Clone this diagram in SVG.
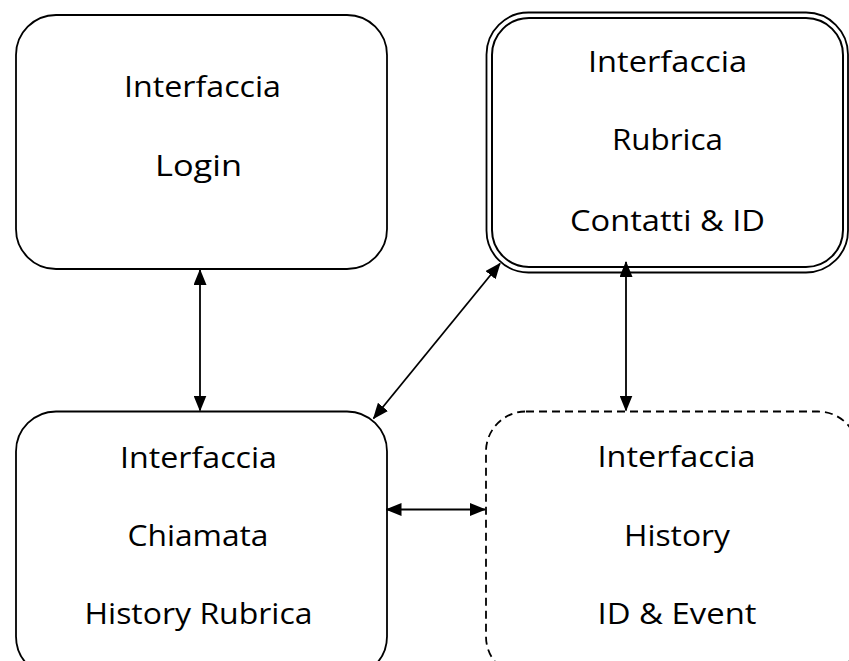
<svg xmlns="http://www.w3.org/2000/svg" width="849" height="661" viewBox="0 0 849 661">
<style>
.box{fill:#fff;stroke:#000;stroke-width:1.8}
.dbl{fill:none;stroke:#000;stroke-width:2}
.dash{fill:#fff;stroke:#000;stroke-width:1.8;stroke-dasharray:8 5}
.t{font-family:"Open Sans","Liberation Sans",sans-serif;font-size:30px;fill:#000;text-anchor:middle}
.c{stroke:#000;stroke-width:1.8;fill:none;marker-start:url(#ah);marker-end:url(#ah)}
</style>
<defs>
<marker id="ah" viewBox="0 0 16 13" refX="15" refY="6.5" markerWidth="16" markerHeight="13" markerUnits="userSpaceOnUse" orient="auto-start-reverse">
<path d="M0,0 L16,6.5 L0,13 z" fill="#000"/>
</marker>
</defs>
<rect width="849" height="661" fill="#fff"/>
<g id="login">
<rect class="box" x="16" y="15" width="371" height="254" rx="40" ry="40"/>
<text class="t" x="202.5" y="97" textLength="157" lengthAdjust="spacingAndGlyphs">Interfaccia</text>
<text class="t" x="198.5" y="175.5" textLength="87" lengthAdjust="spacingAndGlyphs">Login</text>
</g>
<g id="rubrica">
<rect class="box" x="486.5" y="12.5" width="361.5" height="260" rx="42" ry="42"/>
<rect class="dbl" x="492" y="18" width="351" height="249" rx="37" ry="37"/>
<text class="t" x="667.5" y="71.5" textLength="159" lengthAdjust="spacingAndGlyphs">Interfaccia</text>
<text class="t" x="667.5" y="149.5" textLength="111" lengthAdjust="spacingAndGlyphs">Rubrica</text>
<text class="t" x="667.5" y="231" textLength="195" lengthAdjust="spacingAndGlyphs">Contatti &amp; ID</text>
</g>
<g id="chiamata">
<rect class="box" x="16" y="411.5" width="371" height="265" rx="40" ry="40"/>
<text class="t" x="198.5" y="467.5" textLength="157" lengthAdjust="spacingAndGlyphs">Interfaccia</text>
<text class="t" x="198" y="545.5" textLength="141" lengthAdjust="spacingAndGlyphs">Chiamata</text>
<text class="t" x="198.5" y="623.5" textLength="228" lengthAdjust="spacingAndGlyphs">History Rubrica</text>
</g>
<g id="history">
<rect class="dash" x="486" y="411.5" width="372" height="265" rx="40" ry="40"/>
<text class="t" x="676.5" y="467" textLength="158" lengthAdjust="spacingAndGlyphs">Interfaccia</text>
<text class="t" x="677" y="546" textLength="106" lengthAdjust="spacingAndGlyphs">History</text>
<text class="t" x="677" y="624" textLength="159" lengthAdjust="spacingAndGlyphs">ID &amp; Event</text>
</g>
<g id="connectors">
<line class="c" x1="200" y1="270" x2="200" y2="410.5"/>
<line class="c" x1="500" y1="263.5" x2="373.5" y2="418.5"/>
<line class="c" x1="626" y1="262" x2="626" y2="410.5"/>
<line class="c" x1="386.5" y1="509.5" x2="485" y2="509.5"/>
</g>
</svg>
